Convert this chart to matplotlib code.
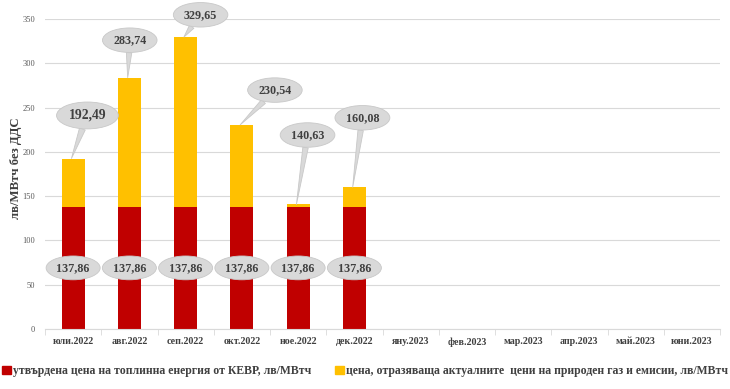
import numpy as np
import matplotlib
matplotlib.use("Agg")
import matplotlib.pyplot as plt
from matplotlib.patches import Rectangle

months = ["юли.2022", "авг.2022", "сеп.2022", "окт.2022", "ное.2022", "дек.2022",
          "яну.2023", "фев.2023", "мар.2023", "апр.2023", "май.2023", "юни.2023"]
base_price = [137.86, 137.86, 137.86, 137.86, 137.86, 137.86]
total_price = [192.49, 283.74, 329.65, 230.54, 140.63, 160.08]
base_labels = ["137,86", "137,86", "137,86", "137,86", "137,86", "137,86"]
total_labels = ["192,49", "283,74", "329,65", "230,54", "140,63", "160,08"]
legend_labels = ["утвърдена цена на топлинна енергия от КЕВР, лв/МВтч",
                 "цена, отразяваща актуалните  цени на природен газ и емисии, лв/МВтч"]
y_label = "лв/МВтч без ДДС"

RED = "#C00000"
YEL = "#FFC000"
TXT = "#404040"
BUB = "#D9D9D9"
SERIF = ["Liberation Serif", "DejaVu Serif"]

fig = plt.figure(figsize=(7.3, 3.89), dpi=100)
ax = fig.add_axes([45/730, 60/389, 675/730, 310/389])

n = len(base_price)
x = np.arange(n)
base = np.array(base_price)
extra = np.array(total_price) - base
bw = 0.41
ax.bar(x, base, width=bw, color=RED, zorder=2)
ax.bar(x, extra, width=bw, bottom=base, color=YEL, zorder=2)

ax.set_xlim(-0.5, len(months) - 0.5)
ax.set_ylim(0, 350)
ax.set_yticks(np.arange(0, 351, 50))
ax.yaxis.grid(True, color="#D9D9D9", lw=0.8, zorder=0)
ax.set_axisbelow(True)
for s in ["left", "right", "top"]:
    ax.spines[s].set_visible(False)
ax.spines["bottom"].set_color("#D9D9D9")
ax.tick_params(axis="y", length=0, pad=7, labelsize=6, labelcolor="#595959")
for t in ax.get_yticklabels():
    t.set_fontfamily(SERIF)
ax.set_xticks(np.arange(len(months)))
ax.set_xticklabels(months, fontfamily=SERIF, fontweight="bold", fontsize=7.2, color=TXT)
ax.set_xticks(np.arange(-0.5, len(months)), minor=True)
ax.tick_params(axis="x", which="major", length=0, pad=6)
ax.tick_params(axis="x", which="minor", length=4, color="#D9D9D9")

fig.text(16/730, 1 - 168/389, y_label, rotation=90, ha="center", va="center",
         fontfamily=SERIF, fontweight="bold", fontsize=9.2, color=TXT)

# callouts for totals (offsets in points)
offsets = [(11.5, 31), (1.5, 27), (12, 16), (25, 25), (8, 50), (7, 50)]
sizes = [9.8, 8.7, 8.7, 8.7, 8.7, 8.7]
for i in range(n):
    ax.annotate(total_labels[i], xy=(x[i] - 0.03, total_price[i]), xytext=offsets[i],
                textcoords="offset points", ha="center", va="center",
                fontfamily=SERIF, fontweight="bold", fontsize=sizes[i], color=TXT,
                bbox=dict(boxstyle="ellipse,pad=0.22", fc=BUB, ec="#C8C8C8", lw=0.6),
                arrowprops=dict(arrowstyle="wedge,tail_width=0.45,shrink_factor=0.5",
                                fc=BUB, ec="#C8C8C8", lw=0.6, shrinkA=0, shrinkB=0),
                zorder=5)
    ax.text(x[i], 69, base_labels[i], ha="center", va="center",
            fontfamily=SERIF, fontweight="bold", fontsize=8.7, color=TXT,
            bbox=dict(boxstyle="ellipse,pad=0.2", fc=BUB, ec="#C8C8C8", lw=0.6), zorder=5)

handles = [Rectangle((0, 0), 1, 1, color=RED), Rectangle((0, 0), 1, 1, color=YEL)]
leg = fig.legend(handles, legend_labels, loc="center left", bbox_to_anchor=(0.0, 18/389),
                 ncol=2, frameon=False, handlelength=0.7, handleheight=0.7,
                 handletextpad=0.2, columnspacing=2.05, borderaxespad=0, borderpad=0.2,
                 prop=dict(family=SERIF, weight="bold", size=8.5))
for t in leg.get_texts():
    t.set_color(TXT)

fig.savefig("out.png", dpi=100)
